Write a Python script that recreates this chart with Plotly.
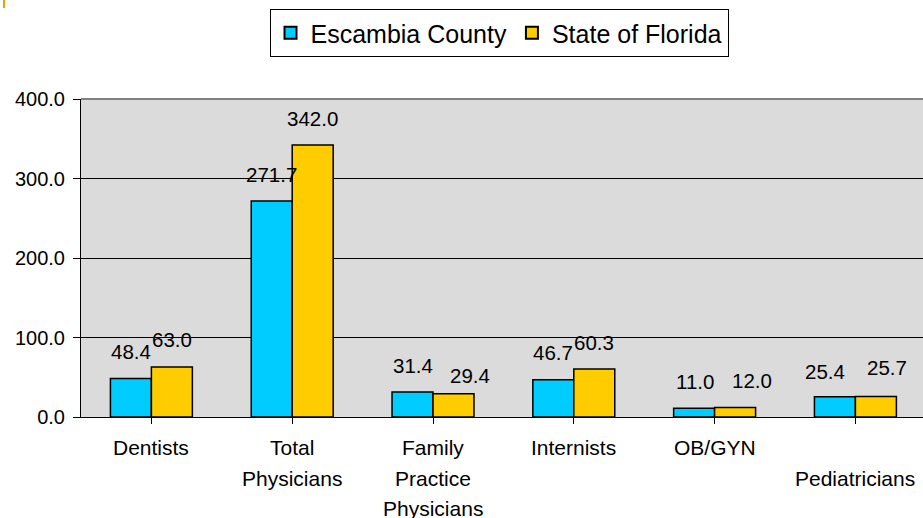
import plotly.graph_objects as go

# Physicians per 100,000 population
categories = ["Dentists", "Total<br>Physicians", "Family<br>Practice<br>Physicians",
              "Internists", "OB/GYN", "<br>Pediatricians"]
escambia = [48.4, 271.7, 31.4, 46.7, 11.0, 25.4]
florida = [63.0, 342.0, 29.4, 60.3, 12.0, 25.7]
series_names = ["Escambia County", "State of Florida"]
y_ticks = [0, 100, 200, 300, 400]

# label nudges in pixels (dx, dy) where neighbouring labels would collide
county_nudge = [(0, 0), (0, 0), (0, 0), (0, 0), (1, 0), (-10, -1.5)]
state_nudge = [(0, 0), (0, 0), (17, -9), (0, 0), (17, 0), (11, 2.5)]

W, H = 923, 518
ML, MR, MT, MB = 81, 0, 99, 101
plot_w = W - ML - MR
plot_h = H - MT - MB
x_range = [-0.5, 5.48]
px_per_cat = plot_w / (x_range[1] - x_range[0])
bargap = 0.418
bar_px = px_per_cat * (1 - bargap) / 2

FONT = "Liberation Sans, Arial, sans-serif"
CYAN = "#00CCFF"
GOLD = "#FFCC00"

xs = list(range(len(categories)))

fig = go.Figure()
fig.add_trace(go.Bar(x=xs, y=escambia, name=series_names[0],
                     marker=dict(color=CYAN, line=dict(color="black", width=1.5))))
fig.add_trace(go.Bar(x=xs, y=florida, name=series_names[1],
                     marker=dict(color=GOLD, line=dict(color="black", width=1.5))))

annotations = []
# value labels above each bar
for i in xs:
    for val, side, nudge in ((escambia[i], -1, county_nudge[i]), (florida[i], 1, state_nudge[i])):
        annotations.append(dict(
            x=i, y=val, xref="x", yref="y", text=f"{val:.1f}", showarrow=False,
            xanchor="center", yanchor="middle",
            xshift=side * bar_px / 2 + nudge[0], yshift=27 + nudge[1],
            font=dict(family=FONT, size=20.5, color="black")))

# category labels, one annotation per line
line_gap = 30.5
for i, lab in enumerate(categories):
    for j, line in enumerate(lab.split("<br>")):
        if not line:
            continue
        annotations.append(dict(
            x=i, y=0, xref="x", yref="y", text=line, showarrow=False,
            xanchor="center", yanchor="middle",
            yshift=-(30.5 + j * line_gap),
            font=dict(family=FONT, size=21, color="black")))

shapes = [
    # grey top border of the plot area
    dict(type="line", xref="paper", yref="paper", x0=0, x1=1, y0=1, y1=1,
         line=dict(color="#808080", width=2)),
    # small orange marker at the top-left corner
    dict(type="line", xref="paper", yref="paper",
         x0=(4 - ML) / plot_w, x1=(4 - ML) / plot_w,
         y0=(H - MB - 0) / plot_h, y1=(H - MB - 8) / plot_h,
         line=dict(color="#FF9900", width=2)),
]

fig.update_layout(
    width=W, height=H,
    margin=dict(l=ML, r=MR, t=MT, b=MB, pad=0),
    paper_bgcolor="white",
    plot_bgcolor="#dbdbdb",
    barmode="group", bargap=bargap, bargroupgap=0,
    font=dict(family=FONT, size=20, color="black"),
    showlegend=True,
    legend=dict(
        orientation="h", x=(499 - ML) / plot_w, xanchor="center",
        y=(H - MB - 9) / plot_h, yanchor="top",
        bordercolor="black", borderwidth=1, bgcolor="white",
        font=dict(family=FONT, size=25, color="black"),
        itemsizing="constant", traceorder="normal",
    ),
    xaxis=dict(
        range=x_range, tickmode="array", tickvals=xs, ticktext=[""] * len(xs),
        showgrid=False, zeroline=False,
        showline=True, linecolor="black", linewidth=1,
        ticks="outside", tickson="boundaries", ticklen=6, tickcolor="black",
    ),
    yaxis=dict(
        range=[0, 400], tickmode="array", tickvals=y_ticks,
        ticktext=[f"{v:.1f}" for v in y_ticks],
        showgrid=True, gridcolor="black", gridwidth=1, zeroline=False,
        showline=True, linecolor="black", linewidth=1,
        ticks="outside", ticklen=7, tickcolor="black",
        tickfont=dict(family=FONT, size=20, color="black"),
        ticklabelstandoff=4,
    ),
    annotations=annotations,
    shapes=shapes,
)

fig.write_html("out.html")
